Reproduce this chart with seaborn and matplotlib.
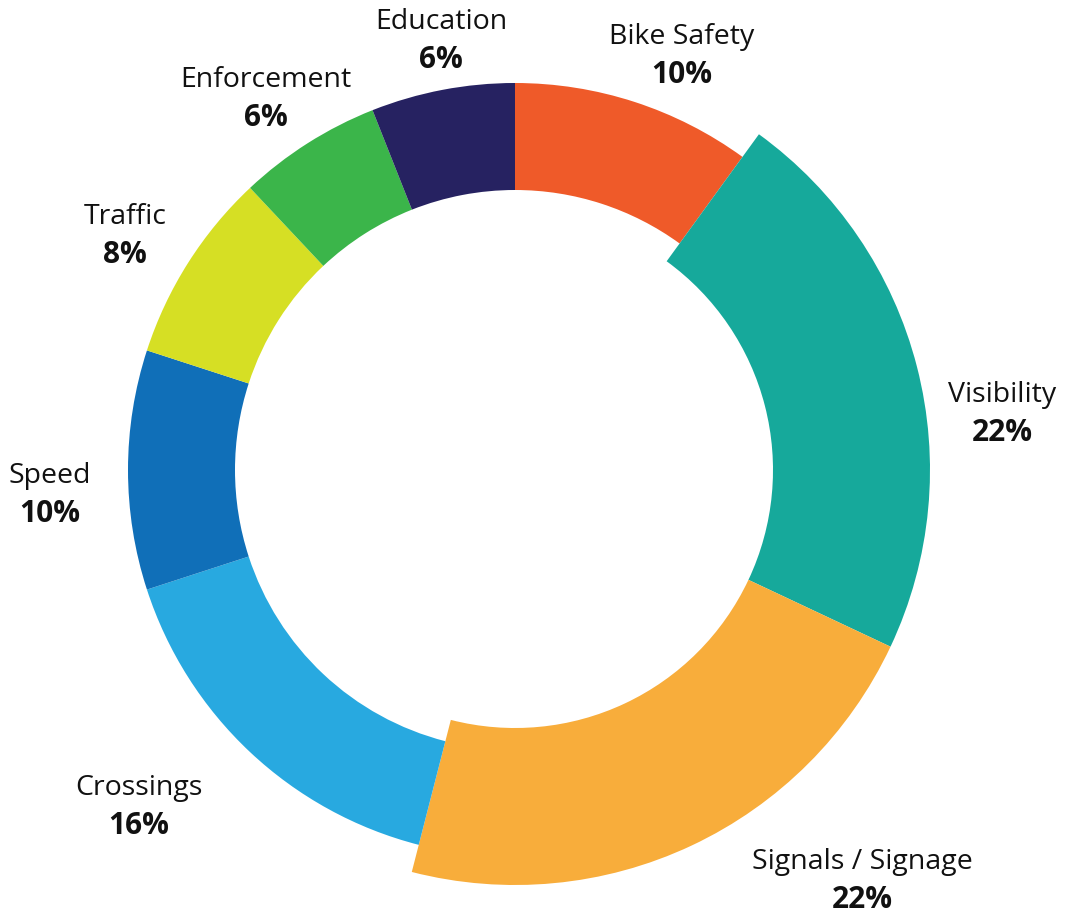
import seaborn as sns
import matplotlib.pyplot as plt

# data, clockwise from 12 o'clock
categories = ['Bike Safety', 'Visibility', 'Signals / Signage', 'Crossings',
              'Speed', 'Traffic', 'Enforcement', 'Education']
shares = [10, 22, 22, 16, 10, 8, 6, 6]
highlight = ['Visibility', 'Signals / Signage']
colors = ['#EF5A29', '#16A99B', '#F8AD3B', '#28A9E0',
          '#106FB8', '#D6DF24', '#3BB54A', '#262261']

# layout (pixel units, y measured from bottom)
W, H = 1065, 916
center = (515, 446)
r_out, r_in = 387, 280
big_out, big_in = 415, 258
label_pos = {
    'Bike Safety': (682, 879),
    'Visibility': (1002, 521),
    'Signals / Signage': (862, 54),
    'Crossings': (139, 128),
    'Speed': (50, 440),
    'Traffic': (125, 699),
    'Enforcement': (266, 836),
    'Education': (441, 894),
}

sns.set_theme(style='white')
plt.rcParams['font.family'] = ['Open Sans', 'DejaVu Sans']

fig = plt.figure(figsize=(W / 100, H / 100), dpi=100)
ax = fig.add_axes([0, 0, 1, 1])

wedges, _ = ax.pie(shares, colors=colors, startangle=90, counterclock=False,
                   center=center, radius=r_out,
                   wedgeprops=dict(width=r_out - r_in, linewidth=0))
for w, name in zip(wedges, categories):
    if name in highlight:
        w.set_radius(big_out)
        w.set_width(big_out - big_in)

for name, val in zip(categories, shares):
    x, y = label_pos[name]
    ax.text(x, y, name, ha='center', va='center', fontsize=20.5, color='#111111')
    ax.text(x, y - 38, f'{val}%', ha='center', va='center', fontsize=21.5,
            fontweight='bold', color='#111111')

ax.set_xlim(0, W)
ax.set_ylim(0, H)
ax.set_aspect('equal')
ax.axis('off')

fig.savefig('out.png', dpi=100, facecolor='white')
